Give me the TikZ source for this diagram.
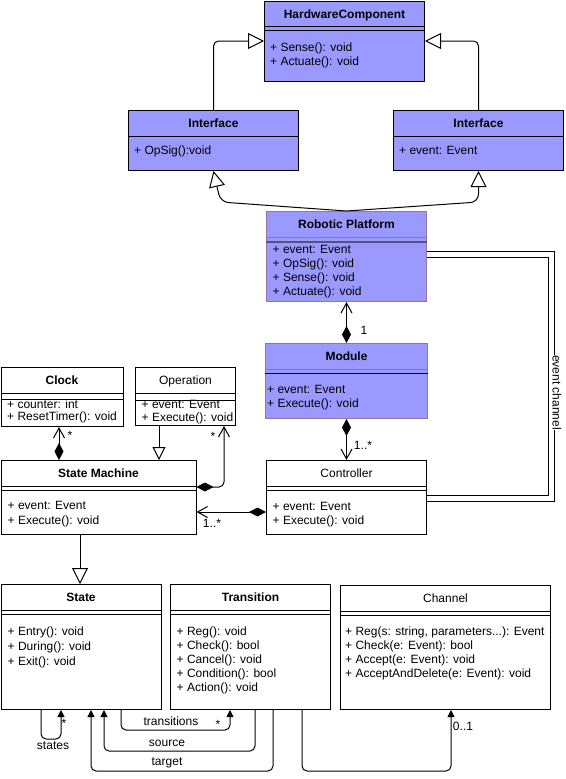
\documentclass[tikz,border=0pt]{standalone}
\usepackage{fontspec}
\setmainfont{Liberation Sans}
\usetikzlibrary{arrows.meta,positioning,calc}
\definecolor{hwfill}{HTML}{9999FF}
\definecolor{rpline}{HTML}{9673A6}
\definecolor{rpsep}{HTML}{56517E}
\newcommand{\clssep}[3][]{\draw[line width=1pt,#1] ([yshift=-#3]#2.north west) -- ([yshift=-#3]#2.north east);}
\tikzset{
  clsbox/.style={rectangle, draw=#1, line width=1pt, anchor=north west, inner sep=0pt},
  clsname/.style={font=\fontsize{12pt}{14pt}\selectfont\bfseries, text height=8.6pt, text depth=0pt, inner sep=0pt},
  clsplain/.style={text height=8.6pt, text depth=0pt, inner sep=0pt},
  members/.style={anchor=north west, align=left, inner sep=0pt, font=\fontsize{12pt}{#1}\selectfont,
                  execute at begin node={\rule{0pt}{10pt}}},
  members/.default=14pt,
  elabel/.style={text height=8.6pt, text depth=0pt, inner sep=0pt},
  inherit/.style={-{Triangle[open, length=#1, width=#1]}, line width=1pt},
  inherit/.default=16pt,
  compo/.style={{Diamond[length=17pt, width=9pt]}-{Straight Barb[length=10pt, width=11pt]}, line width=1pt},
  assoc/.style={-{Triangle[length=7pt, width=7pt]}, line width=1pt, rounded corners=5pt},
}
\begin{document}
\begin{tikzpicture}[x=1pt, y=-1pt, font=\fontsize{12pt}{14pt}\selectfont]
  \useasboundingbox (0,0) rectangle (565,779);

  % classes
  \node[clsbox=black, fill=hwfill, minimum width=160pt, minimum height=80pt] (hw) at (264,0.5) {};
  \node[clsbox=black, fill=hwfill, minimum width=170pt, minimum height=60pt] (ifl) at (128,110) {};
  \node[clsbox=black, fill=hwfill, minimum width=170pt, minimum height=60pt] (ifr) at (393,110) {};
  \node[clsbox=rpline, fill=hwfill, minimum width=160pt, minimum height=90pt] (rp) at (266,211) {};
  \node[clsbox=rpline, fill=hwfill, minimum width=162pt, minimum height=75pt] (mod) at (265,343) {};
  \node[clsbox=black, minimum width=160pt, minimum height=74pt] (ctrl) at (266,460) {};
  \node[clsbox=black, minimum width=122pt, minimum height=59pt] (clock) at (0.5,367) {};
  \node[clsbox=black, minimum width=100pt, minimum height=58pt] (op) at (135,367) {};
  \node[clsbox=black, minimum width=195pt, minimum height=74pt] (sm) at (0.5,460) {};
  \node[clsbox=black, minimum width=160pt, minimum height=125pt] (state) at (0.5,584) {};
  \node[clsbox=black, minimum width=160pt, minimum height=125pt] (trans) at (170,584) {};
  \node[clsbox=black, minimum width=210pt, minimum height=124pt] (chan) at (340,585) {};

  \clssep{hw}{26pt} \clssep{hw}{30pt}
  \clssep{ifl}{26pt} \clssep{ifr}{26pt}
  \clssep[draw=rpline]{rp}{26pt} \clssep[draw=rpsep, line width=1.6pt]{rp}{31pt}
  \clssep[draw=rpline]{mod}{26pt} \clssep{mod}{30pt}
  \clssep{ctrl}{26pt} \clssep{ctrl}{30pt}
  \clssep{clock}{26pt} \clssep{clock}{32pt}
  \clssep{op}{26pt} \clssep{op}{33pt}
  \clssep{sm}{26pt} \clssep{sm}{30pt}
  \clssep{state}{26pt} \clssep{state}{30pt}
  \clssep{trans}{26pt} \clssep{trans}{30pt}
  \clssep{chan}{26pt} \clssep{chan}{30pt}

  \node[clsname] at ([yshift=-13.5pt]hw.north) {HardwareComponent};
  \node[clsname] at ([yshift=-13.5pt]ifl.north) {Interface};
  \node[clsname] at ([yshift=-13.5pt]ifr.north) {Interface};
  \node[clsname] at ([yshift=-13.5pt]rp.north) {Robotic Platform};
  \node[clsname] at ([yshift=-13.5pt]mod.north) {Module};
  \node[clsplain] at ([yshift=-13.5pt]ctrl.north) {Controller};
  \node[clsname] at ([yshift=-13.5pt]clock.north) {Clock};
  \node[clsplain] at ([yshift=-13.5pt]op.north) {Operation};
  \node[clsname] at ([yshift=-13.5pt]sm.north) {State Machine};
  \node[clsname] at ([yshift=-13.5pt]state.north) {State};
  \node[clsname] at ([yshift=-13.5pt]trans.north) {Transition};
  \node[clsplain] at ([yshift=-13.5pt]chan.north) {Channel};

  \node[members] at ([xshift=6pt, yshift=-42pt]hw.north west) {+ Sense(): void\\+ Actuate(): void};
  \node[members] at ([xshift=6pt, yshift=-34.5pt]ifl.north west) {+ OpSig():void};
  \node[members] at ([xshift=6pt, yshift=-34.5pt]ifr.north west) {+ event: Event};
  \node[members=13.8pt] at ([xshift=6.5pt, yshift=-34.5pt]rp.north west)
    {+ event: Event\\+ OpSig(): void\\+ Sense(): void\\+ Actuate(): void};
  \node[members=13.5pt] at ([xshift=2pt, yshift=-42.5pt]mod.north west) {+ event: Event\\+ Execute(): void};
  \node[members] at ([xshift=6.5pt, yshift=-41.8pt]ctrl.north west) {+ event: Event\\+ Execute(): void};
  \node[members=12.5pt] at ([xshift=6.5pt, yshift=-32.5pt]clock.north west) {+ counter: int\\+ ResetTimer(): void};
  \node[members=12.5pt] at ([xshift=6.5pt, yshift=-33.5pt]op.north west) {+ event: Event\\+ Execute(): void};
  \node[members=15pt] at ([xshift=7pt, yshift=-41.2pt]sm.north west) {+ event: Event\\+ Execute(): void};
  \node[members=15.3pt] at ([xshift=7pt, yshift=-42.2pt]state.north west)
    {+ Entry(): void\\+ During(): void\\+ Exit(): void};
  \node[members] at ([xshift=6.5pt, yshift=-42.2pt]trans.north west)
    {+ Reg(): void\\+ Check(): bool\\+ Cancel(): void\\+ Condition(): bool\\+ Action(): void};
  \node[members] at ([xshift=5pt, yshift=-41.2pt]chan.north west)
    {+ Reg(s: string, parameters...): Event\\+ Check(e: Event): bool\\+ Accept(e: Event): void\\+ AcceptAndDelete(e: Event): void};

  % generalisations
  \draw[inherit, rounded corners=5pt] (ifl.north) |- (hw.west);
  \draw[inherit, rounded corners=5pt] (ifr.north) |- (hw.east);
  \draw[inherit, rounded corners=8pt] (rp.north) -- ([xshift=7pt, yshift=-31pt]ifl.south) -- (ifl.south);
  \draw[inherit, rounded corners=8pt] (rp.north) -- ([yshift=-31pt]ifr.south) -- (ifr.south);
  \draw[inherit=13pt] ([xshift=24pt]op.south west) -- ([xshift=158.5pt]sm.north west);
  \draw[inherit] ([xshift=79.5pt]sm.south west) -- ([xshift=79.5pt]state.north west);

  % compositions
  \draw[compo] (mod.north) -- (rp.south);
  \draw[compo] (mod.south) -- (ctrl.north);
  \draw[compo] ([yshift=-52pt]ctrl.north west) -- ([yshift=-52pt]sm.north east);
  \draw[compo] ([xshift=58.5pt]sm.north west) -- ([xshift=58.5pt]clock.south west);
  \draw[compo, rounded corners=5pt] ([yshift=-27pt]sm.north east) -| ([xshift=89pt]op.south west);
  \node[elabel] at (364,330) {1};
  \node[elabel] at (363,445) {1..*};
  \node[elabel] at (212,523) {1..*};
  \node[elabel] at (70,435) {*};
  \node[elabel] at (213,436) {*};

  % event channel
  \draw[line width=1pt, double distance=5pt] ([yshift=-43.5pt]rp.north east) -- ++(124,0)
    |- node[pos=0.283, xshift=6pt, elabel, fill=white, rotate=-90] {event channel} ([yshift=-38.5pt]ctrl.north east);

  % associations
  \draw[assoc] ([xshift=40.5pt]state.south west) -- ++(0,29) -| ([xshift=60.5pt]state.south west);
  \draw[assoc] ([xshift=120.5pt]state.south west) -- ++(0,20) -| ([xshift=60pt]trans.south west);
  \draw[assoc] ([xshift=85pt]trans.south west) -- ++(0,41) -| ([xshift=103.5pt]state.south west);
  \draw[assoc] ([xshift=103pt]trans.south west) -- ++(0,61) -| ([xshift=90.5pt]state.south west);
  \draw[assoc] ([xshift=132pt]trans.south west) -- ++(0,61) -| ([xshift=111pt]chan.south west);
  \node[elabel] at (64,723) {*};
  \node[elabel] at (53,745) {states};
  \node[elabel] at (171,721) {transitions};
  \node[elabel] at (218,724) {*};
  \node[elabel] at (167,742) {source};
  \node[elabel] at (167,761) {target};
  \node[elabel] at (463,726) {0..1};
\end{tikzpicture}
\end{document}
